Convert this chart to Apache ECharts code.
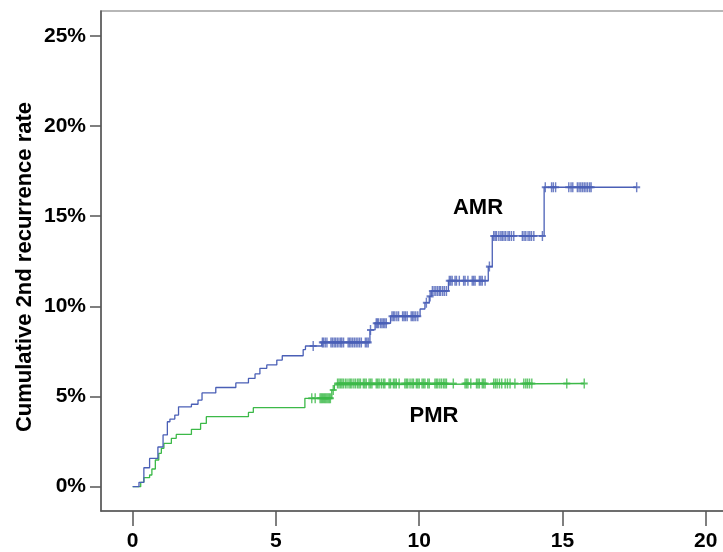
<!DOCTYPE html>
<html>
<head>
<meta charset="utf-8">
<script src="https://cdn.jsdelivr.net/npm/echarts@6/dist/echarts.min.js"></script>
<style>
html,body{margin:0;padding:0;background:#fff;}
#chart{width:723px;height:552px;}
</style>
</head>
<body>
<div id="chart"></div>
<script>
// ---- data (time in years, cumulative rate in %) ----
const xTicks = [0, 5, 10, 15, 20];
const yTicks = [0, 5, 10, 15, 20, 25];

const amrTimes = [0, 0.22, 0.39, 0.59, 0.88, 1.06, 1.21, 1.30, 1.47, 1.60, 2.05, 2.28, 2.42, 2.90, 3.60, 4.04, 4.27, 4.44, 4.68, 5.03, 5.22, 5.95, 6.03, 6.60, 8.28, 8.46, 9.00, 10.03, 10.20, 10.35, 10.42, 11.02, 12.41, 12.55, 14.36];
const amrRates = [0, 0.24, 1.05, 1.57, 2.20, 2.87, 3.60, 3.75, 3.97, 4.43, 4.57, 4.80, 5.20, 5.50, 5.75, 6.00, 6.25, 6.56, 6.75, 7.02, 7.26, 7.60, 7.80, 8.00, 8.69, 9.06, 9.45, 9.85, 10.20, 10.55, 10.85, 11.42, 12.20, 13.90, 16.60];
const amrEnd = 17.59;
const amrCensor = [6.30, 6.62, 6.66, 6.72, 6.78, 6.92, 6.97, 7.03, 7.08, 7.14, 7.20, 7.26, 7.30, 7.36, 7.52, 7.57, 7.62, 7.68, 7.74, 7.80, 7.86, 7.92, 7.98, 8.12, 8.17, 8.22, 8.30,
  8.50, 8.54, 8.58, 8.65, 8.70, 8.75, 8.80, 8.85, 9.05, 9.10, 9.15, 9.22, 9.28, 9.42, 9.47, 9.52, 9.58, 9.72, 9.77, 9.82, 9.88, 9.95, 10.25, 10.38,
  10.46, 10.52, 10.58, 10.64, 10.70, 10.75, 10.82, 10.88, 10.95, 11.05, 11.10, 11.15, 11.25, 11.30, 11.40, 11.55, 11.60, 11.70, 11.85, 11.90, 11.95, 12.10, 12.15, 12.20, 12.30, 12.45,
  12.60, 12.65, 12.70, 12.78, 12.85, 12.90, 12.96, 13.02, 13.10, 13.15, 13.22, 13.30, 13.60, 13.66, 13.72, 13.80, 13.86, 13.92, 14.00, 14.30,
  14.40, 14.62, 14.68, 14.76, 15.22, 15.30, 15.36, 15.52, 15.58, 15.64, 15.70, 15.76, 15.82, 15.88, 15.95, 16.00, 17.59];

const pmrTimes = [0, 0.28, 0.39, 0.59, 0.67, 0.79, 0.91, 1.00, 1.09, 1.35, 1.52, 2.05, 2.37, 2.57, 4.04, 4.21, 6.01, 6.95, 7.04, 7.10];
const pmrRates = [0, 0.24, 0.50, 0.65, 0.98, 1.48, 1.85, 2.13, 2.40, 2.68, 2.90, 3.18, 3.51, 3.88, 4.12, 4.38, 4.90, 5.36, 5.64, 5.72];
const pmrEnd = 15.76;
const pmrCensor = [6.25, 6.37, 6.54, 6.58, 6.62, 6.66, 6.70, 6.74, 6.78, 6.82, 6.86, 6.90, 7.00,
  7.15, 7.20, 7.25, 7.30, 7.35, 7.42, 7.48, 7.55, 7.60, 7.65, 7.72, 7.78, 7.85, 7.90, 7.95, 8.05, 8.10, 8.15, 8.25, 8.30, 8.35,
  8.50, 8.55, 8.60, 8.68, 8.75, 8.80, 8.95, 9.00, 9.10, 9.15, 9.20, 9.30, 9.50, 9.55, 9.60, 9.68, 9.75, 9.80, 9.90, 9.95, 10.00, 10.10, 10.15, 10.20, 10.30, 10.35,
  10.55, 10.60, 10.65, 10.72, 10.78, 10.85, 10.90, 10.95, 11.19, 11.60, 11.65, 11.70, 11.80, 12.00, 12.05, 12.10, 12.20, 12.25, 12.30,
  12.60, 12.66, 12.72, 12.80, 12.88, 13.00, 13.08, 13.17, 13.34, 13.65, 13.72, 13.78, 13.85, 13.93, 15.15, 15.76];

const seriesNames = ['AMR', 'PMR'];
const yTitle = 'Cumulative 2nd recurrence rate';

// ---- helpers ----
function stepData(times, rates, end) {
  const d = times.map((t, i) => [t, rates[i]]);
  d.push([end, rates[rates.length - 1]]);
  return d;
}
function rateAt(times, rates, t) {
  let r = rates[0];
  for (let i = 0; i < times.length; i++) { if (times[i] <= t) r = rates[i]; }
  return r;
}
function censorData(cens, times, rates) {
  return cens.map(t => [t, rateAt(times, rates, t)]);
}

const blue = '#4a5fb6';
const green = '#3cb948';
const plus = 'path://M0,5L10,5M5,0L5,10';
const axisCol = '#555';
const font = 'Liberation Sans, Arial, sans-serif';

const chart = echarts.init(document.getElementById('chart'));
chart.setOption({
  animation: false,
  backgroundColor: '#fff',
  grid: { left: 101, top: 11, width: 650, height: 500, outerBoundsMode: 'none', containLabel: false, show: true, borderColor: '#a0a0a0', borderWidth: 1.5, backgroundColor: 'transparent' },
  xAxis: {
    type: 'value', min: -1.106, max: 21.58,
    axisLine: { show: true, onZero: false, lineStyle: { color: axisCol, width: 1.5 } },
    axisTick: { show: true, customValues: xTicks, length: 15, lineStyle: { color: axisCol, width: 1.5 } },
    axisLabel: { customValues: xTicks, color: '#000', fontWeight: 'bold', fontSize: 21, fontFamily: font, margin: 20 },
    splitLine: { show: false }
  },
  yAxis: {
    type: 'value', min: -1.347, max: 26.37,
    axisLine: { show: true, onZero: false, lineStyle: { color: axisCol, width: 1.5 } },
    axisTick: { show: true, customValues: yTicks, length: 11, lineStyle: { color: axisCol, width: 1.5 } },
    axisLabel: { customValues: yTicks, formatter: v => Math.round(v) + '%', color: '#000', fontWeight: 'bold', fontSize: 21, fontFamily: font, margin: 15, padding: [8, 0, 0, 0] },
    splitLine: { show: false }
  },
  graphic: [
    { type: 'text', x: 25, y: 267, rotation: Math.PI / 2, style: { text: yTitle, fill: '#000', font: 'bold 22px ' + font, textAlign: 'center', textVerticalAlign: 'middle' } },
    { type: 'text', x: 478, y: 208, style: { text: seriesNames[0], fill: '#000', font: 'bold 22px ' + font, textAlign: 'center', textVerticalAlign: 'middle' } },
    { type: 'text', x: 434, y: 416, style: { text: seriesNames[1], fill: '#000', font: 'bold 22px ' + font, textAlign: 'center', textVerticalAlign: 'middle' } }
  ],
  series: [
    { name: 'PMR', type: 'line', step: 'end', showSymbol: false, data: stepData(pmrTimes, pmrRates, pmrEnd), lineStyle: { color: green, width: 1.3 }, z: 2 },
    { name: 'AMR', type: 'line', step: 'end', showSymbol: false, data: stepData(amrTimes, amrRates, amrEnd), lineStyle: { color: blue, width: 1.3 }, z: 3 },
    { name: 'PMR censored', type: 'scatter', symbol: plus, symbolSize: [7, 10], data: censorData(pmrCensor, pmrTimes, pmrRates), itemStyle: { color: 'none', borderColor: green, borderWidth: 1.7 }, z: 4 },
    { name: 'AMR censored', type: 'scatter', symbol: plus, symbolSize: [7, 10], data: censorData(amrCensor, amrTimes, amrRates), itemStyle: { color: 'none', borderColor: blue, borderWidth: 1.7 }, z: 5 }
  ]
});
</script>
</body>
</html>
